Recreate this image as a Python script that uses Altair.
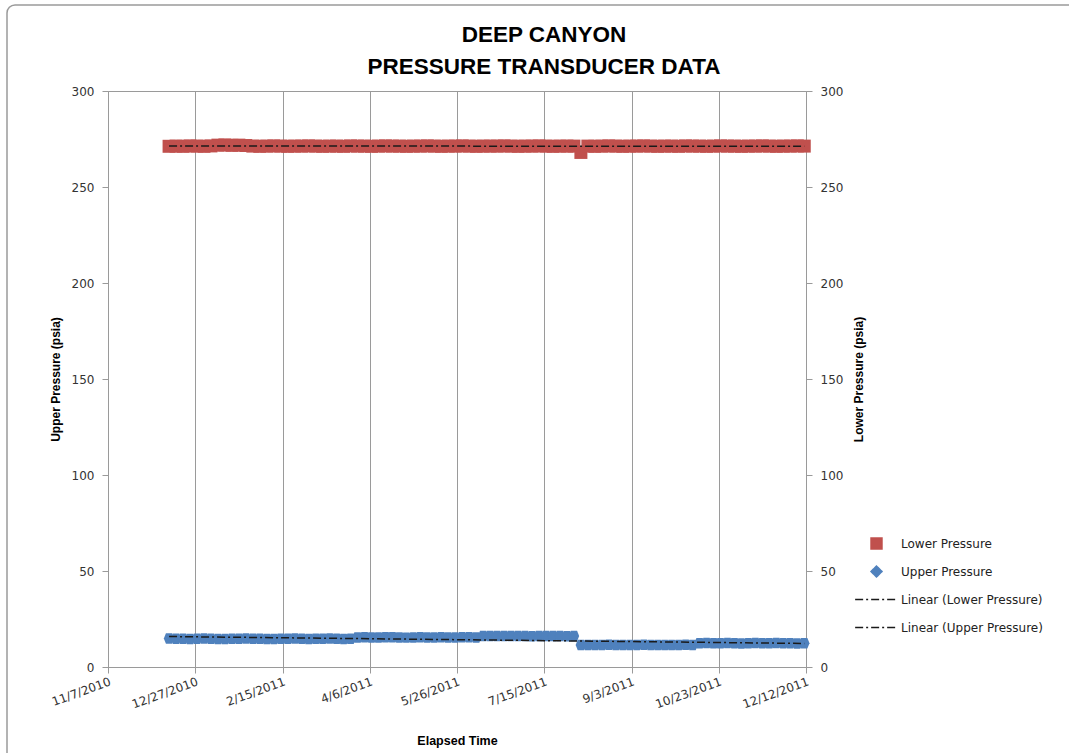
import altair as alt
import pandas as pd

# ---------------- data ----------------
first_reading = "2010-12-12"          # first logged reading
reading_step_days = 4                 # one value every 4 days
upper_pressure = [
    14.8, 14.7, 14.7, 14.6, 14.7, 14.8, 14.7, 14.6, 14.6, 14.7, 14.7, 14.8, 14.7, 14.7,
    14.6, 14.6, 14.7, 14.7, 14.8, 14.7, 14.6, 14.7, 14.7, 14.8, 14.7, 14.6, 14.7,
    15.4, 15.5, 15.4, 15.4, 15.5, 15.5, 15.4, 15.3, 15.4, 15.5, 15.4, 15.4, 15.5, 15.4,
    15.4, 15.5, 15.5, 15.4,
    16.1, 16.2, 16.1, 16.1, 16.2, 16.2, 16.1, 16.0, 16.1, 16.2, 16.1, 16.1, 16.0, 16.1,
    11.4, 11.5, 11.5, 11.4, 11.6, 11.5, 11.5, 11.4, 11.5, 11.6, 11.5, 11.5, 11.4, 11.5,
    11.5, 11.6, 11.5,
    12.4, 12.5, 12.4, 12.4, 12.5, 12.4, 12.3, 12.4, 12.5, 12.4, 12.4, 12.5, 12.4, 12.4,
    12.3, 12.4,
]
lower_pressure = [
    271.2, 271.3, 271.2, 271.4, 271.3, 271.2, 271.4,
    271.8, 271.9, 271.7, 271.8, 271.6,
    271.3, 271.2, 271.3, 271.4, 271.3, 271.2, 271.3, 271.3, 271.4, 271.3, 271.2, 271.3,
    271.3, 271.2, 271.4, 271.3, 271.3, 271.2, 271.3, 271.4, 271.3, 271.3, 271.2, 271.3,
    271.3, 271.4, 271.3, 271.2, 271.3, 271.3, 271.4, 271.3, 271.2, 271.3, 271.3, 271.3,
    271.4, 271.3, 271.2, 271.3, 271.3, 271.4, 271.3, 271.2, 271.3, 271.3, 271.3,
    268.0,
    271.3, 271.2, 271.3, 271.4, 271.3, 271.2, 271.3, 271.3, 271.4, 271.3, 271.2, 271.3,
    271.3, 271.2, 271.4, 271.3, 271.3, 271.2, 271.3, 271.4, 271.3, 271.3, 271.2, 271.3,
    271.3, 271.4, 271.3, 271.2, 271.3, 271.3, 271.4, 271.3,
]
tick_dates = ["2010-11-07", "2010-12-27", "2011-02-15", "2011-04-06", "2011-05-26",
              "2011-07-15", "2011-09-03", "2011-10-23", "2011-12-12"]
y_ticks = [0, 50, 100, 150, 200, 250, 300]
series_names = ["Lower Pressure", "Upper Pressure",
                "Linear (Lower Pressure)", "Linear (Upper Pressure)"]
series_colors = ["#C0504D", "#4F81BD", "#1a1a1a", "#1a1a1a"]

# ---------------- table ----------------
epoch = pd.Timestamp("1970-01-01")
def to_ms(ts):
    return int((pd.Timestamp(ts) - epoch) // pd.Timedelta(milliseconds=1))

dates = pd.date_range(first_reading, periods=len(upper_pressure), freq=f"{reading_step_days}D")
t_ms = [to_ms(d) for d in dates]
df = pd.DataFrame({
    "t": t_ms + t_ms,
    "series": ["Lower Pressure"] * len(lower_pressure) + ["Upper Pressure"] * len(upper_pressure),
    "value": lower_pressure + upper_pressure,
})
tick_ms = [to_ms(d) for d in tick_dates]

LABEL_FONT = "DejaVu Sans"
TITLE_FONT = "Liberation Sans"
GRID = "#9a9a9a"

legend = alt.Legend(
    title=None, orient="none", legendX=762, legendY=446,
    symbolSize=120, symbolStrokeWidth=1.5, labelOffset=18, rowPadding=11, gridAlign="all",
    labelFont=LABEL_FONT, labelFontSize=12, labelColor="#222222", padding=0,
    symbolOpacity=1,
    symbolFillColor=alt.ExprRef(expr="scale('color', datum.value)"),
    symbolStrokeColor=alt.ExprRef(expr="scale('color', datum.value)"),
    symbolDash=alt.ExprRef(expr="scale('strokeDash', datum.value)"),
)
color_enc = alt.Color("series:N", scale=alt.Scale(domain=series_names, range=series_colors), legend=legend)
shape_enc = alt.Shape("series:N", scale=alt.Scale(domain=series_names,
                      range=["square", "diamond", "M-3.9,0H3.9", "M-3.9,0H3.9"]), legend=legend)
dash_enc = alt.StrokeDash("series:N", scale=alt.Scale(domain=series_names,
                          range=[[1, 0], [1, 0], [8, 3, 2, 3], [8, 3, 2, 3]]), legend=legend)

x_enc = alt.X(
    "t:T",
    scale=alt.Scale(type="utc", domain=[tick_ms[0], tick_ms[-1]]),
    axis=alt.Axis(values=tick_ms, labelExpr="utcFormat(datum.value, '%-m/%-d/%Y')", labelAngle=-20,
                  grid=True, gridColor=GRID, domainColor=GRID, tickColor=GRID, tickSize=6,
                  labelFont=LABEL_FONT, labelFontSize=12, labelColor="#333333", labelPadding=3,
                  title="Elapsed Time", titleFont=TITLE_FONT, titleFontSize=12.5,
                  titleFontWeight="bold", titleColor="#000000", titlePadding=25),
)
y_scale = alt.Scale(domain=[0, 300], nice=False)
common_y_axis = dict(values=y_ticks, grid=False, domainColor=GRID, tickColor=GRID, tickSize=6,
                     labelFont=LABEL_FONT, labelFontSize=12, labelColor="#333333", labelPadding=8,
                     titleFont=TITLE_FONT, titleFontSize=12, titleFontWeight="bold",
                     titleColor="#000000")

base = alt.Chart(df)

# light outer frame of the chart area (decoration only)
frame = alt.Chart(pd.DataFrame({"frame": [0]})).mark_rect(
    fill=None, stroke="#9a9a9a", strokeWidth=1.5, cornerRadius=8
).encode(x=alt.value(-101), x2=alt.value(975), y=alt.value(-86), y2=alt.value(690))

lower_pts = base.transform_filter(alt.datum.series == "Lower Pressure").mark_point(
    filled=True, size=169, opacity=1
).encode(
    x=x_enc,
    y=alt.Y("value:Q", scale=y_scale,
            axis=alt.Axis(orient="left", title="Upper Pressure (psia)", titlePadding=9, **common_y_axis)),
    color=color_enc, shape=shape_enc,
)
# dense logger readings drawn with an elongated diamond so the band is continuous
upper_pts = base.transform_filter(alt.datum.series == "Upper Pressure").mark_point(
    filled=True, size=110, opacity=1, shape="M-1,0L-0.6,-1H0.6L1,0L0.6,1H-0.6Z"
).encode(
    x=x_enc,
    y=alt.Y("value:Q", scale=y_scale, axis=None),
    color=color_enc,
)
trend = base.transform_regression(
    "t", "value", groupby=["series"]
).transform_calculate(
    series='"Linear (" + datum.series + ")"'
).mark_line(strokeWidth=1.5).encode(
    x=x_enc,
    y=alt.Y("value:Q", scale=y_scale,
            axis=alt.Axis(orient="right", title="Lower Pressure (psia)", titleAngle=270,
                          titlePadding=23, **common_y_axis)),
    color=color_enc, strokeDash=dash_enc,
)

chart = alt.layer(frame, lower_pts, upper_pts, trend).resolve_scale(y="independent").properties(
    width=698, height=576,
    autosize=alt.AutoSizeParams(type="none"),
    padding={"left": 108, "top": 91, "right": 263, "bottom": 86},
    title=alt.Title(["DEEP CANYON", "PRESSURE TRANSDUCER DATA"], font=TITLE_FONT, fontSize=22.5,
                    fontWeight="bold", color="#000000", anchor="middle", frame="group",
                    dx=87, dy=80, offset=6, lineHeight=32),
    background="white",
).configure_view(stroke=GRID, strokeWidth=1)

chart.save("out.html", embed_options={"renderer": "svg", "actions": False})
